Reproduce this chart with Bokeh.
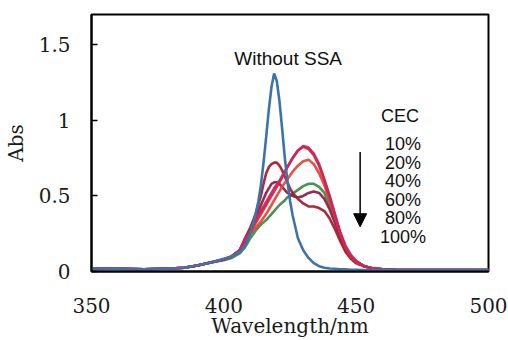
from bokeh.plotting import figure
from bokeh.models import Range1d, FixedTicker, NumeralTickFormatter, ColumnDataSource, Arrow, NormalHead
from bokeh.core.properties import value
from bokeh.embed import file_html
from bokeh.resources import INLINE

# ---------------- data ----------------
wavelength = [350, 360, 370, 380, 385, 390, 395, 400, 403, 406, 408, 410,
              412, 413, 414, 415, 416, 417, 418, 419, 420, 421, 422, 423, 424, 425, 426,
              428, 430, 432, 434, 436, 438, 440, 442, 444, 446, 448, 450,
              453, 456, 460, 465, 470, 480, 490, 500]

without_ssa = [0.02, 0.018, 0.015, 0.02, 0.025, 0.04, 0.06, 0.085, 0.10, 0.13, 0.17, 0.25,
               0.38, 0.46, 0.57, 0.72, 0.89, 1.07, 1.22, 1.31, 1.26, 1.13, 0.95, 0.76, 0.60, 0.47, 0.37,
               0.22, 0.14, 0.09, 0.055, 0.035, 0.025, 0.02, 0.018, 0.015, 0.014, 0.012, 0.012,
               0.01, 0.01, 0.01, 0.01, 0.01, 0.01, 0.01, 0.01]

cec_10 = [0.02, 0.018, 0.015, 0.02, 0.025, 0.04, 0.06, 0.08, 0.10, 0.14, 0.20, 0.26,
          0.32, 0.35, 0.38, 0.41, 0.44, 0.47, 0.50, 0.53, 0.56, 0.59, 0.62, 0.655, 0.69, 0.72, 0.75,
          0.80, 0.825, 0.81, 0.77, 0.70, 0.60, 0.49, 0.37, 0.25, 0.16, 0.10, 0.065,
          0.035, 0.022, 0.015, 0.012, 0.01, 0.01, 0.01, 0.01]

cec_20 = [0.02, 0.018, 0.015, 0.02, 0.025, 0.04, 0.06, 0.08, 0.10, 0.14, 0.21, 0.27,
          0.34, 0.37, 0.40, 0.43, 0.46, 0.49, 0.52, 0.55, 0.575, 0.60, 0.63, 0.66, 0.69, 0.72, 0.75,
          0.80, 0.83, 0.82, 0.78, 0.71, 0.61, 0.50, 0.38, 0.26, 0.17, 0.11, 0.07,
          0.035, 0.022, 0.015, 0.012, 0.01, 0.01, 0.01, 0.01]

cec_40 = [0.02, 0.018, 0.015, 0.02, 0.025, 0.04, 0.06, 0.08, 0.10, 0.14, 0.20, 0.25,
          0.29, 0.31, 0.33, 0.355, 0.38, 0.41, 0.44, 0.47, 0.50, 0.53, 0.56, 0.585, 0.61, 0.635, 0.66,
          0.70, 0.73, 0.74, 0.71, 0.65, 0.57, 0.47, 0.36, 0.25, 0.16, 0.10, 0.065,
          0.035, 0.022, 0.015, 0.012, 0.01, 0.01, 0.01, 0.01]

cec_60 = [0.02, 0.018, 0.015, 0.02, 0.025, 0.04, 0.06, 0.08, 0.10, 0.14, 0.22, 0.29,
          0.38, 0.44, 0.50, 0.58, 0.65, 0.69, 0.71, 0.72, 0.72, 0.70, 0.67, 0.63, 0.59, 0.55, 0.52,
          0.48, 0.45, 0.43, 0.43, 0.42, 0.40, 0.35, 0.28, 0.20, 0.13, 0.085, 0.055,
          0.035, 0.022, 0.015, 0.012, 0.01, 0.01, 0.01, 0.01]

cec_80 = [0.02, 0.018, 0.015, 0.02, 0.025, 0.04, 0.06, 0.08, 0.10, 0.14, 0.21, 0.27,
          0.35, 0.39, 0.44, 0.48, 0.52, 0.55, 0.58, 0.59, 0.59, 0.58, 0.56, 0.54, 0.52, 0.51, 0.50,
          0.49, 0.50, 0.52, 0.53, 0.52, 0.48, 0.41, 0.32, 0.22, 0.14, 0.09, 0.06,
          0.035, 0.022, 0.015, 0.012, 0.01, 0.01, 0.01, 0.01]

cec_100 = [0.02, 0.018, 0.015, 0.02, 0.025, 0.04, 0.06, 0.075, 0.09, 0.12, 0.16, 0.22,
           0.27, 0.29, 0.31, 0.325, 0.34, 0.36, 0.38, 0.40, 0.42, 0.44, 0.455, 0.47, 0.49, 0.50, 0.515,
           0.54, 0.565, 0.58, 0.58, 0.56, 0.52, 0.44, 0.34, 0.24, 0.15, 0.10, 0.065,
           0.035, 0.022, 0.015, 0.012, 0.01, 0.01, 0.01, 0.01]

cec_labels = ["10%", "20%", "40%", "60%", "80%", "100%"]
x_ticks = [350, 400, 450, 500]
y_ticks = [0, 0.5, 1, 1.5]

# ---------------- styling ----------------
SERIF = "DejaVu Serif"
SANS = "Liberation Sans"
cec_series = [cec_10, cec_20, cec_40, cec_60, cec_80, cec_100]
cec_colors = ["#e3262f", "#c8285f", "#e5483a", "#a5202e", "#8e2248", "#3f8c4a"]
blue = "#3d72ad"

p = figure(width=508, height=340, x_range=Range1d(350, 500), y_range=Range1d(0, 1.7),
           output_backend="svg", toolbar_location=None,
           min_border_left=89, min_border_right=20, min_border_top=14, min_border_bottom=67)
p.background_fill_color = "white"
p.border_fill_color = "white"
p.outline_line_color = "black"
p.outline_line_width = 2
p.grid.visible = False

# draw order: reds first, blue on top
order = [5, 4, 3, 2, 0, 1]
for i in order:
    p.line(wavelength, cec_series[i], line_color=cec_colors[i], line_width=2.6, line_alpha=0.95)
p.line(wavelength, without_ssa, line_color=blue, line_width=2.6)

# axes
xa = p.xaxis[0]
xa.ticker = FixedTicker(ticks=x_ticks)
xa.major_tick_in = 0
xa.major_tick_out = 0
xa.minor_tick_in = 0
xa.minor_tick_out = 0
xa.axis_line_width = 2
xa.axis_line_color = "black"
xa.major_label_standoff = 26
xa.major_label_text_font = SERIF
xa.major_label_text_font_size = "20px"
xa.major_label_text_color = "#1a1a1a"
xa.axis_label = "Wavelength/nm"
xa.axis_label_text_font = SERIF
xa.axis_label_text_font_size = "20px"
xa.axis_label_text_font_style = "normal"
xa.axis_label_text_color = "#1a1a1a"
xa.axis_label_standoff = -2

ya = p.yaxis[0]
ya.ticker = FixedTicker(ticks=y_ticks)
ya.formatter = NumeralTickFormatter(format="0.[0]")
ya.major_tick_in = 6
ya.major_tick_out = 0
ya.minor_tick_in = 0
ya.minor_tick_out = 0
ya.major_tick_line_width = 1.5
ya.axis_line_width = 2
ya.axis_line_color = "black"
ya.major_label_standoff = 21
ya.major_label_text_font = SERIF
ya.major_label_text_font_size = "20px"
ya.major_label_text_color = "#1a1a1a"
ya.axis_label = "Abs"
ya.axis_label_text_font = SERIF
ya.axis_label_text_font_size = "20px"
ya.axis_label_text_font_style = "normal"
ya.axis_label_text_color = "#1a1a1a"
ya.axis_label_standoff = 8

# annotations
p.text(x=[424.3], y=[1.41], text=["Without SSA"], text_font=value(SANS),
       text_font_size="19px", text_align="center", text_baseline="middle", text_color="#111111")
p.text(x=[466.6], y=[1.026], text=["CEC"], text_font=value(SANS),
       text_font_size="18px", text_align="center", text_baseline="middle", text_color="#111111")

label_y0, label_dy = 0.842, 0.1225
lab_src = ColumnDataSource(dict(
    x=[467.7] * len(cec_labels),
    y=[label_y0 - i * label_dy for i in range(len(cec_labels))],
    t=cec_labels))
p.text(x="x", y="y", text="t", source=lab_src, text_font=value(SANS),
       text_font_size="18px", text_align="center", text_baseline="middle", text_color="#111111")

p.add_layout(Arrow(end=NormalHead(size=13, fill_color="black", line_color="black"),
                   x_start=451.5, y_start=0.79, x_end=451.5, y_end=0.296,
                   line_width=1.5, line_color="black"))

open("out.html", "w").write(file_html(p, INLINE))
